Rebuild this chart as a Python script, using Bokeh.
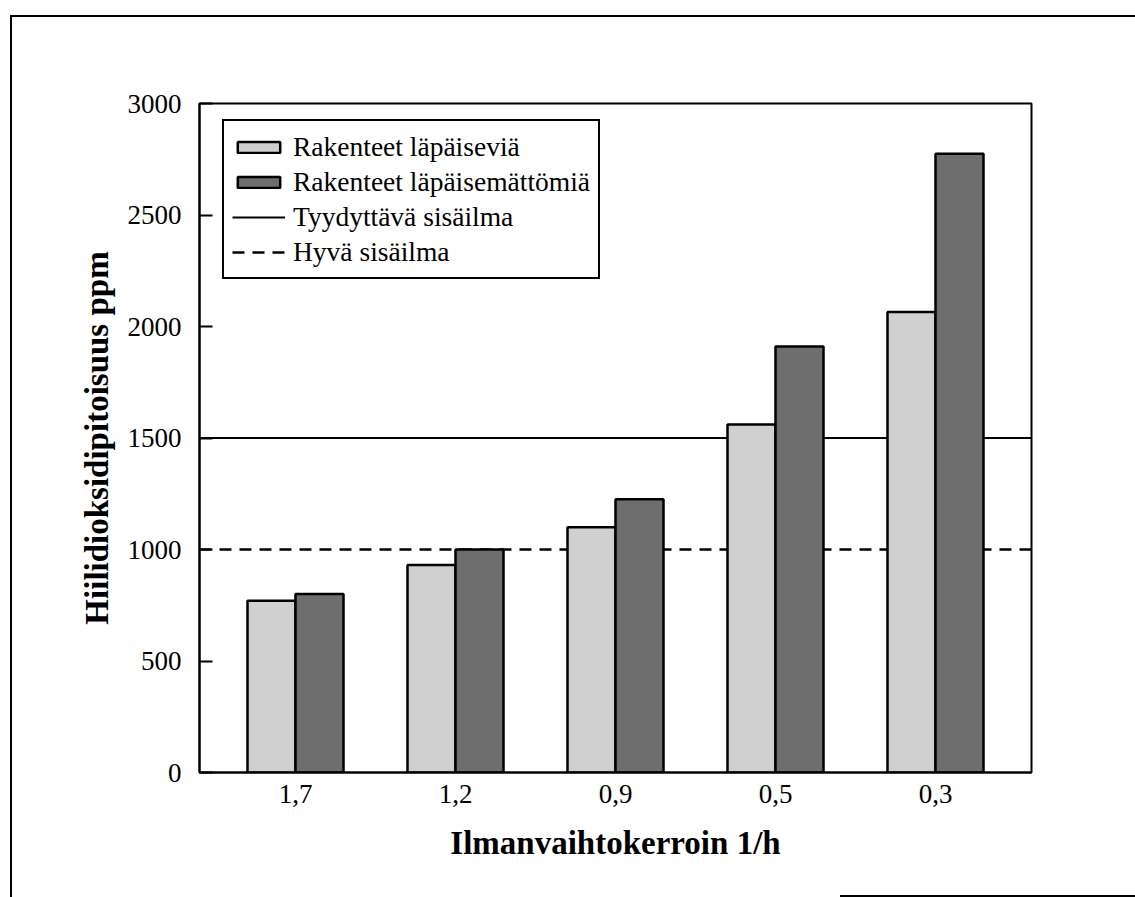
from bokeh.plotting import figure
from bokeh.models import Range1d, FixedTicker, Legend, LegendItem
from bokeh.embed import file_html
from bokeh.resources import INLINE

# Air change rate categories (1/h) and CO2 concentration results (ppm)
categories = ["1,7", "1,2", "0,9", "0,5", "0,3"]
permeable = [770, 930, 1100, 1560, 2065]
impermeable = [800, 1000, 1225, 1910, 2775]
satisfactory_limit = 1500
good_limit = 1000
y_ticks = [0, 500, 1000, 1500, 2000, 2500, 3000]

series_names = [
    "Rakenteet läpäiseviä",
    "Rakenteet läpäisemättömiä",
    "Tyydyttävä sisäilma",
    "Hyvä sisäilma",
]

FONT = "Liberation Serif"
positions = list(range(len(categories)))
x_start, x_end = -0.6, len(categories) - 0.4
bar_w = 0.3

# page frame lines (left, top and a piece of the bottom) painted as the host background
frame_css = ", ".join([
    "linear-gradient(#000, #000) 10px 15px / 2px 882px no-repeat",
    "linear-gradient(#000, #000) 10px 15px / 1125px 2px no-repeat",
    "linear-gradient(#000, #000) 840px 895px / 295px 2px no-repeat",
    "#fff",
])

p = figure(
    width=1135, height=897,
    x_range=Range1d(x_start, x_end), y_range=Range1d(0, 3000),
    output_backend="svg", toolbar_location=None,
    min_border_left=199, min_border_right=104,
    min_border_top=103, min_border_bottom=125,
    background_fill_color="white", border_fill_alpha=0,
)
p.styles = {"background": frame_css}
p.grid.visible = False
p.outline_line_color = "black"
p.outline_line_width = 2

# reference limits, drawn first so the bars cover them
sat = p.line([x_start, x_end], [satisfactory_limit] * 2, line_color="black", line_width=2)
good = p.line([x_start, x_end], [good_limit] * 2, line_color="black", line_width=2.5,
              line_dash="12 8")

light = p.vbar(x=[i - bar_w / 2 for i in positions], top=permeable, width=bar_w,
               fill_color="#d0d0d0", line_color="black", line_width=2.5)
dark = p.vbar(x=[i + bar_w / 2 for i in positions], top=impermeable, width=bar_w,
              fill_color="#6e6e6e", line_color="black", line_width=2.5)

# axes
p.xaxis.ticker = FixedTicker(ticks=positions)
p.xaxis.major_label_overrides = {i: c for i, c in zip(positions, categories)}
p.xaxis.major_tick_in = 0
p.xaxis.major_tick_out = 0
p.xaxis.minor_tick_line_color = None
p.xaxis.major_label_standoff = 12
p.xaxis.axis_label = "Ilmanvaihtokerroin 1/h"
p.xaxis.axis_label_standoff = 19

p.yaxis.ticker = FixedTicker(ticks=y_ticks)
p.yaxis.major_tick_in = 13
p.yaxis.major_tick_out = 0
p.yaxis.major_tick_line_width = 2
p.yaxis.minor_tick_line_color = None
p.yaxis.major_label_standoff = 18
p.yaxis.axis_label = "Hiilidioksidipitoisuus ppm"
p.yaxis.axis_label_standoff = 10

for ax in (p.xaxis[0], p.yaxis[0]):
    ax.axis_line_width = 2
    ax.axis_line_color = "black"
    ax.major_label_text_font = FONT
    ax.major_label_text_font_size = "27px"
    ax.major_label_text_color = "black"
    ax.axis_label_text_font = FONT
    ax.axis_label_text_font_size = "33px"
    ax.axis_label_text_font_style = "bold"
    ax.axis_label_text_color = "black"

legend = Legend(
    items=[
        LegendItem(label=series_names[0], renderers=[light]),
        LegendItem(label=series_names[1], renderers=[dark]),
        LegendItem(label=series_names[2], renderers=[sat]),
        LegendItem(label=series_names[3], renderers=[good]),
    ],
    location=(23, 493),
    glyph_width=53, glyph_height=14, label_height=35, label_standoff=8,
    spacing=0, padding=8, margin=0,
    background_fill_color="white", background_fill_alpha=1,
)
legend.label_text_font = FONT
legend.label_text_font_size = "27.5px"
legend.label_text_color = "black"
legend.border_line_color = "black"
legend.border_line_alpha = 1
legend.border_line_width = 2
p.add_layout(legend)

open("out.html", "w").write(file_html(p, INLINE))
